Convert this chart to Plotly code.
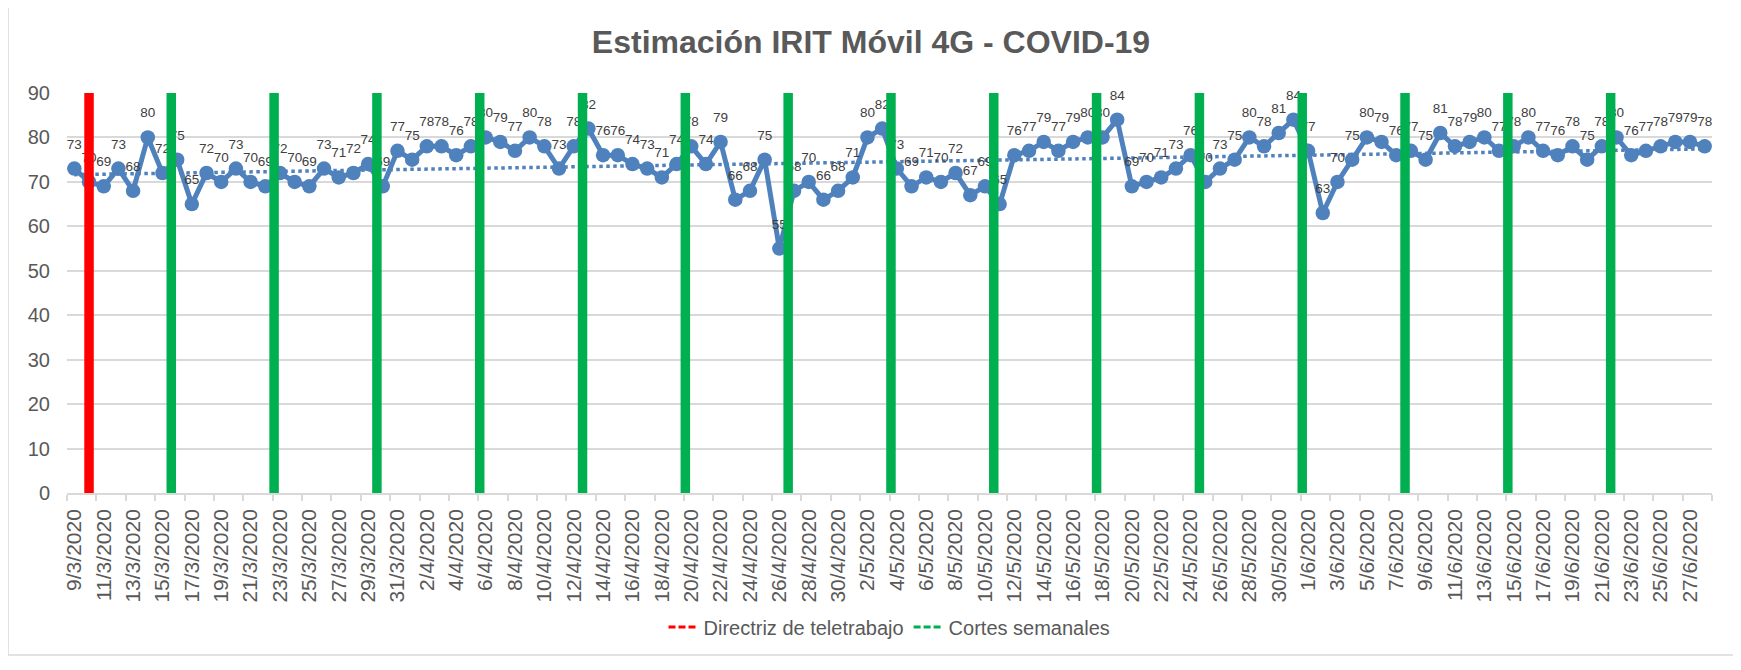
import numpy as np
import pandas as pd
import plotly.graph_objects as go

# ---------------- data ----------------
dates = [f"{d.day}/{d.month}/{d.year}" for d in pd.date_range("2020-03-09", "2020-06-28")]

irit = [73, 70, 69, 73, 68, 80, 72, 75, 65, 72,
        70, 73, 70, 69, 72, 70, 69, 73, 71, 72,
        74, 69, 77, 75, 78, 78, 76, 78, 80, 79,
        77, 80, 78, 73, 78, 82, 76, 76, 74, 73,
        71, 74, 78, 74, 79, 66, 68, 75, 55, 68,
        70, 66, 68, 71, 80, 82, 73, 69, 71, 70,
        72, 67, 69, 65, 76, 77, 79, 77, 79, 80,
        80, 84, 69, 70, 71, 73, 76, 70, 73, 75,
        80, 78, 81, 84, 77, 63, 70, 75, 80, 79,
        76, 77, 75, 81, 78, 79, 80, 77, 78, 80,
        77, 76, 78, 75, 78, 80, 76, 77, 78, 79,
        79, 78]

telework_dates = ["10/3/2020"]
weekly_cuts = ["15/3/2020", "22/3/2020", "29/3/2020", "5/4/2020", "12/4/2020",
               "19/4/2020", "26/4/2020", "3/5/2020", "10/5/2020", "17/5/2020",
               "24/5/2020", "31/5/2020", "7/6/2020", "14/6/2020", "21/6/2020"]
bar_top = 90
tick_labels = dates[::2]

# ---------------- styles ----------------
BLUE = "#4F81BD"
RED = "#FF0000"
GREEN = "#00B050"
TXT = "#595959"
GRID = "#D9D9D9"
FONT = "Liberation Sans, Arial, sans-serif"
CUT_SHIFT = 0.6

idx = np.arange(len(dates))
slope, intercept = np.polyfit(idx, irit, 1)
trend = slope * idx + intercept


def vbars(names, shift):
    xs, ys = [], []
    for n in names:
        p = dates.index(n) + shift
        xs += [p, p, None]
        ys += [0, bar_top, None]
    return xs, ys


fig = go.Figure()

fig.add_trace(go.Scatter(x=idx, y=trend, mode="lines",
                         line=dict(color=BLUE, width=3.5, dash="dot"),
                         showlegend=False, hoverinfo="skip"))
fig.add_trace(go.Scatter(x=idx, y=irit, mode="lines+markers",
                         line=dict(color=BLUE, width=5),
                         marker=dict(size=14.5, color=BLUE),
                         showlegend=False, name="IRIT"))
fig.add_trace(go.Scatter(x=idx, y=irit, mode="markers+text",
                         text=[str(v) for v in irit], textposition="top center",
                         textfont=dict(size=13.5, color="#404040", family=FONT),
                         marker=dict(size=25, color="rgba(0,0,0,0)"),
                         cliponaxis=False, showlegend=False, hoverinfo="skip"))

rx, ry = vbars(telework_dates, 0.0)
fig.add_trace(go.Scatter(x=rx, y=ry, mode="lines", line=dict(color=RED, width=9.5),
                         showlegend=False, hoverinfo="skip"))
gx, gy = vbars(weekly_cuts, CUT_SHIFT)
fig.add_trace(go.Scatter(x=gx, y=gy, mode="lines", line=dict(color=GREEN, width=9.5),
                         showlegend=False, hoverinfo="skip"))

# legend entries
fig.add_trace(go.Scatter(x=[None], y=[None], mode="lines", name="Directriz de teletrabajo",
                         line=dict(color=RED, width=3, dash="7px,3px")))
fig.add_trace(go.Scatter(x=[None], y=[None], mode="lines", name="Cortes semanales",
                         line=dict(color=GREEN, width=3, dash="7px,3px")))

# page layout (page pixels); the figure div sits 8px inside the page (body margin)
OFF = 8
W, H = 1741 - OFF, 670 - 2 * OFF
plot_left, plot_right, plot_top, plot_bottom = 67, 1712, 93, 493
L = plot_left - OFF
R = W - (plot_right - OFF)
T = plot_top - OFF
B = H - (plot_bottom - OFF)
pw, ph = W - L - R, H - T - B


def py(page_y):
    return (plot_bottom - page_y) / ph


def px(page_x):
    return (page_x - plot_left) / pw


boundaries = [i - 0.5 for i in idx[::2]] + [len(dates) - 0.5]

fig.update_layout(
    width=W, height=H,
    margin=dict(l=L, r=R, t=T, b=B),
    paper_bgcolor="white", plot_bgcolor="white",
    font=dict(family=FONT, color=TXT),
    title=dict(text="Estimación IRIT Móvil 4G - COVID-19",
               font=dict(size=32, color=TXT, family=FONT, weight="bold"),
               x=(871 - OFF) / W, xref="container", xanchor="center",
               y=1 - (42 - OFF) / H, yref="container", yanchor="middle"),
    xaxis=dict(range=[-0.5, len(dates) - 0.5], tickmode="array",
               tickvals=list(idx[::2]), ticktext=tick_labels, tickangle=-90,
               tickfont=dict(size=21, color=TXT, family=FONT),
               showgrid=False, zeroline=False, showline=True,
               linecolor=GRID, linewidth=1.5, ticks="",
               ticklabelstandoff=6,
               minor=dict(tickmode="array", tickvals=boundaries, ticks="outside",
                          ticklen=6, tickcolor=GRID, tickwidth=1.5, showgrid=False)),
    yaxis=dict(range=[0, 90], tickmode="linear", tick0=0, dtick=10,
               tickfont=dict(size=20, color=TXT, family=FONT),
               showgrid=True, gridcolor=GRID, gridwidth=1.5,
               zeroline=False, showline=False, ticks="",
               ticklabelstandoff=16),
    legend=dict(orientation="h", x=0.5, xanchor="center",
                y=py(627), yanchor="middle",
                font=dict(size=20, color=TXT, family=FONT),
                bgcolor="rgba(0,0,0,0)"),
    shapes=[dict(type="rect", xref="paper", yref="paper",
                 x0=px(8), x1=px(1736),
                 y0=py(655), y1=py(3),
                 line=dict(color=GRID, width=1.5), fillcolor="rgba(0,0,0,0)",
                 layer="below")],
)

fig.write_html("out.html")
